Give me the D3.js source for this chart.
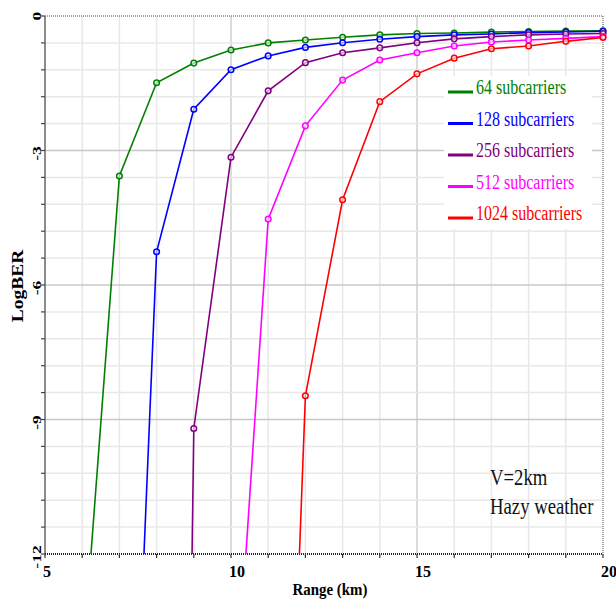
<!DOCTYPE html>
<html>
<head>
<meta charset="utf-8">
<script src="https://cdn.jsdelivr.net/npm/d3@7"></script>
<style>
  html, body { margin: 0; padding: 0; background: #fff; }
  svg { display: block; }
  text { font-family: "Liberation Serif", "Times New Roman", serif; }
</style>
</head>
<body>
<svg id="chart" width="616" height="601"></svg>
<script>
// ---- Data ----
const seriesNames = ["64 subcarriers", "128 subcarriers", "256 subcarriers", "512 subcarriers", "1024 subcarriers"];
const seriesColors = ["#008000", "#0000ff", "#800080", "#ff00ff", "#ff0000"];

const range64 = [6, 7, 8, 9, 10, 11, 12, 13, 14, 15, 16, 17, 18, 19, 20];
const ber64 = [-14.6, -3.57, -1.49, -1.05, -0.76, -0.60, -0.535, -0.475, -0.42, -0.39, -0.38, -0.36, -0.345, -0.335, -0.33];

const range128 = [7, 8, 9, 10, 11, 12, 13, 14, 15, 16, 17, 18, 19, 20];
const ber128 = [-25.1, -5.26, -2.08, -1.20, -0.89, -0.70, -0.595, -0.52, -0.46, -0.42, -0.40, -0.37, -0.357, -0.34];

const range256 = [8, 9, 10, 11, 12, 13, 14, 15, 16, 17, 18, 19, 20];
const ber256 = [-68.8, -9.20, -3.15, -1.67, -1.04, -0.82, -0.71, -0.595, -0.51, -0.46, -0.42, -0.40, -0.39];

const range512 = [10, 11, 12, 13, 14, 15, 16, 17, 18, 19, 20];
const ber512 = [-17.0, -4.53, -2.45, -1.43, -0.98, -0.82, -0.67, -0.58, -0.535, -0.50, -0.46];

const range1024 = [11, 12, 13, 14, 15, 16, 17, 18, 19, 20];
const ber1024 = [-30.5, -8.47, -4.10, -1.91, -1.29, -0.94, -0.73, -0.67, -0.565, -0.48];

const xTickLabels = [5, 10, 15, 20];
const yTickLabels = [0, -3, -6, -9, -12];
const annotationLines = ["V=2km", "Hazy weather"];
const xTitle = "Range (km)";
const yTitle = "LogBER";

// ---- Build ----
const seriesX = [range64, range128, range256, range512, range1024];
const seriesY = [ber64, ber128, ber256, ber512, ber1024];
const series = seriesNames.map((name, i) => ({
  name, color: seriesColors[i],
  pts: seriesX[i].map((x, j) => ({ x, y: seriesY[i][j] }))
}));

const svg = d3.select("#chart");
const L = 45, R = 603, T = 16, B = 554;
const x = d3.scaleLinear().domain([5, 20]).range([L, R]);
const y = d3.scaleLinear().domain([-12, 0]).range([B, T]);

// grid
const xGrid = d3.range(5, 21, 1);
const yGrid = d3.range(0, 21).map(k => -0.6 * k).filter(v => v >= -12.0001);
const g = svg.append("g");
g.selectAll(".vg").data(xGrid.filter(v => v > 5 && v < 20)).join("line")
  .attr("x1", d => x(d)).attr("x2", d => x(d)).attr("y1", T).attr("y2", B)
  .attr("stroke", d => d % 5 === 0 ? "#cfcfcf" : "#e8e8e8").attr("stroke-width", 1.5);
g.selectAll(".hg").data(yGrid.filter(v => v < -0.01 && v > -11.99)).join("line")
  .attr("x1", L).attr("x2", R).attr("y1", d => y(d)).attr("y2", d => y(d))
  .attr("stroke", d => Math.abs(d % 3) < 0.01 || Math.abs(Math.abs(d % 3) - 3) < 0.01 ? "#c8c8c8" : "#e8e8e8")
  .attr("stroke-width", 1.5);

// frame top/right dotted
svg.append("line").attr("x1", L).attr("x2", R).attr("y1", T).attr("y2", T)
  .attr("stroke", "#888").attr("stroke-width", 1.5).attr("stroke-dasharray", "1,1");
svg.append("line").attr("x1", R).attr("x2", R).attr("y1", T).attr("y2", B)
  .attr("stroke", "#888").attr("stroke-width", 1.5).attr("stroke-dasharray", "1,1");

// left axis
svg.append("line").attr("x1", L).attr("x2", L).attr("y1", T).attr("y2", B)
  .attr("stroke", "#666").attr("stroke-width", 1.5);
svg.selectAll(".yt").data(yGrid).join("line")
  .attr("x1", L - 4).attr("x2", L).attr("y1", d => y(d)).attr("y2", d => y(d))
  .attr("stroke", "#444").attr("stroke-width", 1.2);

// bottom axis (dotted)
svg.append("line").attr("x1", L).attr("x2", R).attr("y1", B).attr("y2", B)
  .attr("stroke", "#222").attr("stroke-width", 2).attr("stroke-dasharray", "1,1");
svg.selectAll(".xt").data(xGrid).join("line")
  .attr("x1", d => x(d)).attr("x2", d => x(d)).attr("y1", B).attr("y2", B + 4)
  .attr("stroke", "#333").attr("stroke-width", 1.2);

// tick labels
svg.selectAll(".xl").data(xTickLabels).join("text")
  .attr("x", d => x(d) - 2).attr("y", 577)
  .attr("font-size", 16).attr("font-weight", "bold").attr("fill", "#000")
  .text(d => d);
svg.selectAll(".yl").data(yTickLabels).join("text")
  .attr("transform", d => `translate(41,${y(d) + (d === 0 ? 0 : 3)}) rotate(-90) scale(1.35,1)`)
  .attr("text-anchor", "middle")
  .attr("font-size", 13).attr("font-weight", "bold").attr("fill", "#000")
  .text(d => d);

// titles
svg.append("text").attr("transform", "translate(330,595) scale(0.85,1)")
  .attr("text-anchor", "middle").attr("font-size", 17.5).attr("font-weight", "bold")
  .text(xTitle);
svg.append("text").attr("transform", "translate(23,286) rotate(-90) scale(1.18,1)")
  .attr("text-anchor", "middle").attr("font-size", 16.5).attr("font-weight", "bold")
  .text(yTitle);

// series
svg.append("defs").append("clipPath").attr("id", "clip")
  .append("rect").attr("x", L).attr("y", T - 5).attr("width", R - L + 5).attr("height", B - T + 5);
const plot = svg.append("g").attr("clip-path", "url(#clip)");
const line = d3.line().x(d => x(d.x)).y(d => y(d.y));
series.forEach(s => {
  plot.append("path").datum(s.pts).attr("d", line)
    .attr("fill", "none").attr("stroke", s.color).attr("stroke-width", 1.6);
  plot.selectAll(null).data(s.pts).join("circle")
    .attr("cx", d => x(d.x)).attr("cy", d => y(d.y)).attr("r", 2.8)
    .attr("fill", "#fff").attr("fill-opacity", 0.6).attr("stroke", s.color).attr("stroke-width", 1.5);
});

// legend
const lg = svg.append("g");
lg.append("rect").attr("x", 444).attr("y", 76).attr("width", 148).attr("height", 153).attr("fill", "#fff");
series.forEach((s, i) => {
  const by = 94 + i * 31.5;
  lg.append("line").attr("x1", 448).attr("x2", 473).attr("y1", by - 2).attr("y2", by - 2)
    .attr("stroke", s.color).attr("stroke-width", 3);
  lg.append("text").attr("transform", `translate(476,${by}) scale(0.8,1)`)
    .attr("font-size", 20).attr("fill", s.color).text(s.name);
});

// annotation
annotationLines.forEach((t, i) => {
  svg.append("text").attr("transform", `translate(490,${485 + i * 29}) scale(0.78,1)`)
    .attr("font-size", 24).attr("fill", "#111").text(t);
});
</script>
</body>
</html>
